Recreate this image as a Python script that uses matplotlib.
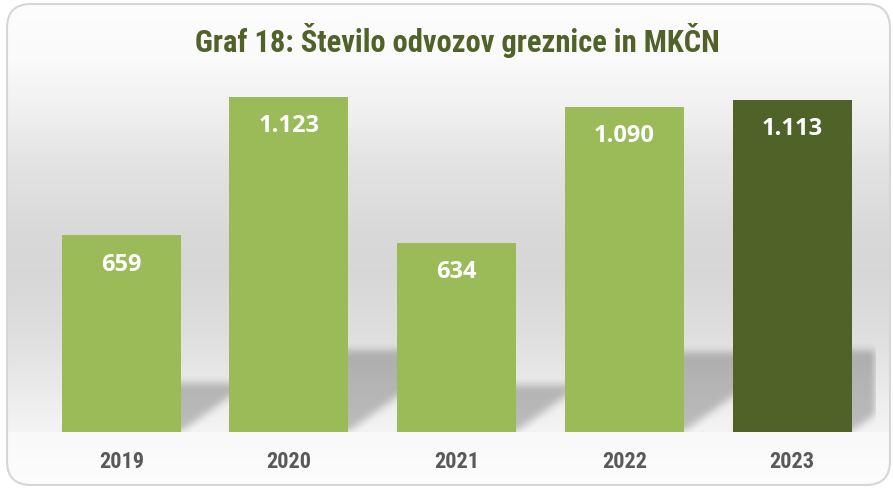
import numpy as np
import matplotlib.pyplot as plt
from matplotlib import font_manager
from matplotlib.patches import FancyBboxPatch

# Data
years = ["2019", "2020", "2021", "2022", "2023"]
values = [659, 1123, 634, 1090, 1113]
bar_colors = ["#9BBB59", "#9BBB59", "#9BBB59", "#9BBB59", "#4F6228"]
title = "Graf 18: Število odvozov greznice in MKČN"

# Pick a narrow font for the title / axis labels if one is installed
installed = {f.name for f in font_manager.fontManager.ttflist}
narrow = next((f for f in ["Liberation Sans Narrow", "DejaVu Sans Condensed",
                           "Roboto Condensed", "Open Sans Condensed"] if f in installed),
              "DejaVu Sans")

W, H = 893, 488
fig = plt.figure(figsize=(W / 100, H / 100), dpi=100)
fig.patch.set_facecolor("white")

# Background: wall gradient inside a rounded frame
bg = fig.add_axes([0, 0, 1, 1])
bg.set_xlim(0, W)
bg.set_ylim(H, 0)
bg.axis("off")
stops_y = [0, 60, 110, 160, 230, 270, 330, 395, 431, 432, 488]
stops_v = [252, 249, 239, 227, 216, 214, 221, 235, 243, 248, 252]
grad = np.interp(np.arange(H), stops_y, stops_v)
img = np.repeat(grad[:, None], W, axis=1)
frame = FancyBboxPatch((7, 4), 883, 481, boxstyle="round,pad=0,rounding_size=24",
                       fc="none", ec="#d6d6d6", lw=1.5, zorder=3)
bg.add_patch(frame)
im = bg.imshow(img, cmap="gray", vmin=0, vmax=255, extent=(0, W, H, 0),
               aspect="auto", zorder=1)
im.set_clip_path(frame)

# Main axes
ax = fig.add_axes([37.4 / W, (H - 432) / H, 838.5 / W, (432 - 74) / H])
ax.set_facecolor("none")
x = np.arange(len(years))
ax.set_xlim(-0.5, len(years) - 0.5)
ax.set_ylim(0, 1200)
bar_w = 0.71

# Perspective shadows cast to the right of each bar
nx, ny = 839, 358
gx = np.linspace(-0.5, len(years) - 0.5, nx)
gy = np.linspace(0, 1200, ny)
XX, YY = np.meshgrid(gx, gy)
mask = np.zeros_like(XX)
shear = 0.00249
for xi, v in zip(x, values):
    hs = 0.245 * v
    inside = (YY <= hs) & (XX >= xi - bar_w / 2 + YY * shear) & (XX <= xi + bar_w / 2 + YY * shear)
    mask = np.maximum(mask, inside.astype(float))
k = np.ones(9) / 9
for _ in range(2):
    mask = np.apply_along_axis(lambda r: np.convolve(r, k, mode="same"), 0, mask)
    mask = np.apply_along_axis(lambda r: np.convolve(r, k, mode="same"), 1, mask)
shadow = np.zeros((ny, nx, 4))
shadow[..., 3] = mask * 0.23
ax.imshow(shadow, extent=(-0.5, len(years) - 0.5, 0, 1200), origin="lower",
          aspect="auto", zorder=1)

ax.bar(x, values, width=bar_w, color=bar_colors, zorder=2)

for xi, v in zip(x, values):
    ax.annotate(f"{v:,}".replace(",", "."), xy=(xi, v), xytext=(0, -21),
                textcoords="offset points", ha="center", va="center",
                color="white", fontsize=17, fontweight="bold", family="Open Sans", zorder=3)

ax.set_xticks(x)
ax.set_xticklabels(years, fontsize=16, fontweight="bold", color="#595959", family=narrow)
ax.tick_params(axis="x", length=0, pad=14)
ax.set_yticks([])
for s in ax.spines.values():
    s.set_visible(False)

fig.text(457 / W, 1 - 40 / H, title, ha="center", va="center", fontsize=22,
         fontweight="bold", color="#4F6228", family=narrow)

fig.savefig("out.png", dpi=100)
